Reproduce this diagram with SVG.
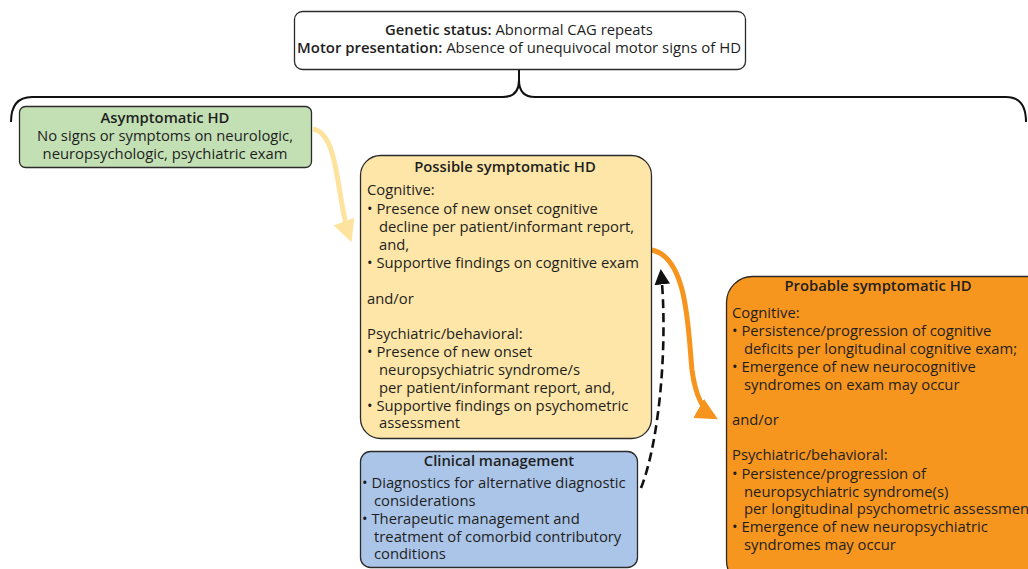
<svg xmlns="http://www.w3.org/2000/svg" width="1028" height="569" viewBox="0 0 1028 569">
<defs>
<style>
text{font-family:"Open Sans","DejaVu Sans",sans-serif;font-size:14.8px;fill:#1e1e1e}
.b{font-weight:600}
.c{text-anchor:middle}
.box{stroke:#2b2b2b;stroke-width:1.3}
</style>
<marker id="ay" viewBox="0 0 10 10" refX="8" refY="5" markerWidth="4.4" markerHeight="4.4" orient="auto" markerUnits="strokeWidth"><path d="M0,0 L10,5 L0,10 Z" fill="#fde39d"/></marker>
<marker id="ao" viewBox="0 0 10 10" refX="8" refY="5" markerWidth="4.4" markerHeight="4.4" orient="auto" markerUnits="strokeWidth"><path d="M0,0 L10,5 L0,10 Z" fill="#f7941d"/></marker>
<marker id="ak" viewBox="0 0 10 10" refX="8" refY="5" markerWidth="6" markerHeight="6" orient="auto" markerUnits="strokeWidth"><path d="M0,0 L10,5 L0,10 Z" fill="#111"/></marker>
</defs>
<rect width="1028" height="569" fill="#fff"/>

<g id="top">
<rect class="box" x="294.5" y="11.5" width="451" height="58" rx="8" fill="#fff"/>
<text class="c" x="519" y="35"><tspan class="b">Genetic status:</tspan> Abnormal CAG repeats</text>
<text class="c" x="519" y="53" textLength="444" lengthAdjust="spacingAndGlyphs"><tspan class="b">Motor presentation:</tspan> Absence of unequivocal motor signs of HD</text>
</g>

<g id="connectors" fill="none">
<path d="M11,122 Q11,97 32,97 L503,97 Q519,97 519,80 L519,70 M519,80 Q519,97 535,97 L1006,97 Q1026,97 1026,122" stroke="#111" stroke-width="2"/>
<path d="M313,129 C340,134 336,200 350,238" stroke="#fde39d" stroke-width="5" marker-end="url(#ay)"/>
<path d="M652,250 C688,258 688,330 692,370 C696,400 705,412 714,417" stroke="#f7941d" stroke-width="5" marker-end="url(#ao)"/>
<path d="M641,488 C660,440 668,340 661,272" stroke="#111" stroke-width="2.6" stroke-dasharray="9,5" marker-end="url(#ak)"/>
</g>

<g id="asymptomatic">
<rect class="box" x="19.5" y="106.5" width="292" height="61" rx="6" fill="#c3e0b5"/>
<text class="c b" x="165" y="123">Asymptomatic HD</text>
<text class="c" x="165" y="141">No signs or symptoms on neurologic,</text>
<text class="c" x="165" y="159">neuropsychologic, psychiatric exam</text>
</g>

<g id="possible">
<rect class="box" x="360.5" y="155.5" width="291" height="283" rx="20" fill="#fde6a8"/>
<text class="c b" x="505" y="172">Possible symptomatic HD</text>
<text x="367" y="195">Cognitive:</text>
<text x="367" y="214">• Presence of new onset cognitive</text>
<text x="379" y="232">decline per patient/informant report,</text>
<text x="379" y="250">and,</text>
<text x="367" y="268">• Supportive findings on cognitive exam</text>
<text x="367" y="304">and/or</text>
<text x="367" y="339">Psychiatric/behavioral:</text>
<text x="367" y="357">• Presence of new onset</text>
<text x="379" y="375">neuropsychiatric syndrome/s</text>
<text x="379" y="393">per patient/informant report, and,</text>
<text x="367" y="411">• Supportive findings on psychometric</text>
<text x="379" y="428">assessment</text>
</g>

<g id="clinical">
<rect class="box" x="360.5" y="451.5" width="277" height="116" rx="10" fill="#abc5e8"/>
<text class="c b" x="499" y="466">Clinical management</text>
<text x="362" y="488">• Diagnostics for alternative diagnostic</text>
<text x="374" y="506">considerations</text>
<text x="362" y="524">• Therapeutic management and</text>
<text x="374" y="542">treatment of comorbid contributory</text>
<text x="374" y="559">conditions</text>
</g>

<g id="probable">
<rect class="box" x="726.5" y="276.5" width="330" height="310" rx="26" fill="#f7961f"/>
<text class="c b" x="878" y="291">Probable symptomatic HD</text>
<text x="732" y="318">Cognitive:</text>
<text x="732" y="336">• Persistence/progression of cognitive</text>
<text x="744" y="354">deficits per longitudinal cognitive exam;</text>
<text x="732" y="372">• Emergence of new neurocognitive</text>
<text x="744" y="390">syndromes on exam may occur</text>
<text x="732" y="425">and/or</text>
<text x="732" y="460">Psychiatric/behavioral:</text>
<text x="732" y="479">• Persistence/progression of</text>
<text x="744" y="497">neuropsychiatric syndrome(s)</text>
<text x="744" y="514">per longitudinal psychometric assessment</text>
<text x="732" y="532">• Emergence of new neuropsychiatric</text>
<text x="744" y="550">syndromes may occur</text>
</g>
</svg>
